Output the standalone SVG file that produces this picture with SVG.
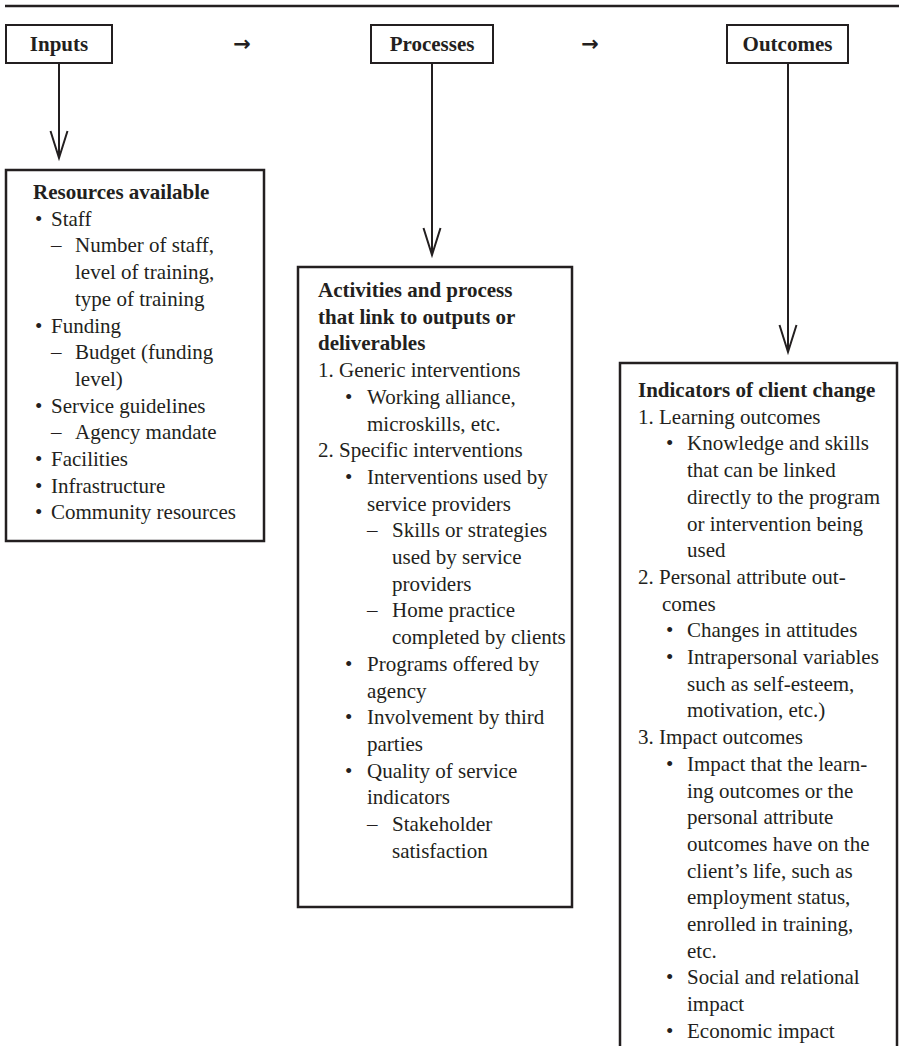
<svg xmlns="http://www.w3.org/2000/svg" width="899" height="1046" viewBox="0 0 899 1046">
<defs>
<marker id="vhead" markerUnits="userSpaceOnUse" markerWidth="40" markerHeight="40" refX="0" refY="0" orient="auto" overflow="visible">
<path d="M-27,-8.5 L0,0 L-27,8.5" fill="none" stroke="#231f20" stroke-width="2"/>
</marker>
<style>
text{font-family:"Liberation Serif","Times New Roman",serif;font-size:21px;fill:#231f20}
.b{font-weight:bold}
.h{font-weight:bold;text-anchor:middle}
.arr{font-family:"DejaVu Sans","Liberation Sans",sans-serif;font-size:21px;font-weight:bold;text-anchor:middle}
.hbox{fill:#fff;stroke:#231f20;stroke-width:2}
.box{fill:#fff;stroke:#231f20;stroke-width:2.5}
.conn{stroke:#231f20;stroke-width:2;fill:none}
</style>
</defs>
<rect width="899" height="1046" fill="#fff"/>
<line x1="5" y1="6" x2="899" y2="6" stroke="#231f20" stroke-width="2.5"/>

<g id="connectors">
<line class="conn" x1="59" y1="63" x2="59" y2="158" marker-end="url(#vhead)"/>
<line class="conn" x1="432" y1="63" x2="432" y2="255" marker-end="url(#vhead)"/>
<line class="conn" x1="788" y1="63" x2="788" y2="352" marker-end="url(#vhead)"/>
<text class="arr" x="242" y="51">→</text>
<text class="arr" x="590" y="51">→</text>
</g>

<g id="inputs-header">
<rect class="hbox" x="6" y="25" width="106" height="38"/>
<text class="h" x="59" y="51">Inputs</text>
</g>
<g id="processes-header">
<rect class="hbox" x="371" y="25" width="122" height="38"/>
<text class="h" x="432" y="51">Processes</text>
</g>
<g id="outcomes-header">
<rect class="hbox" x="727" y="25" width="121" height="38"/>
<text class="h" x="787.5" y="51">Outcomes</text>
</g>

<g id="inputs-box">
<rect class="box" x="6" y="170" width="258" height="371"/>
<text class="b" x="33" y="199">Resources available</text>
<text x="35" y="225.7">•</text><text x="51" y="225.7">Staff</text>
<text x="51" y="252.4">–</text><text x="75" y="252.4">Number of staff,</text>
<text x="75" y="279.1">level of training,</text>
<text x="75" y="305.8">type of training</text>
<text x="35" y="332.5">•</text><text x="51" y="332.5">Funding</text>
<text x="51" y="359.2">–</text><text x="75" y="359.2">Budget (funding</text>
<text x="75" y="385.9">level)</text>
<text x="35" y="412.6">•</text><text x="51" y="412.6">Service guidelines</text>
<text x="51" y="439.3">–</text><text x="75" y="439.3">Agency mandate</text>
<text x="35" y="466">•</text><text x="51" y="466">Facilities</text>
<text x="35" y="492.7">•</text><text x="51" y="492.7">Infrastructure</text>
<text x="35" y="519.4">•</text><text x="51" y="519.4">Community resources</text>
</g>

<g id="processes-box">
<rect class="box" x="298" y="267" width="274" height="640"/>
<text class="b" x="318" y="297">Activities and process</text>
<text class="b" x="318" y="323.7">that link to outputs or</text>
<text class="b" x="318" y="350.4">deliverables</text>
<text x="318" y="377.1">1. Generic interventions</text>
<text x="345" y="403.8">•</text><text x="367" y="403.8">Working alliance,</text>
<text x="367" y="430.5">microskills, etc.</text>
<text x="318" y="457.2">2. Specific interventions</text>
<text x="345" y="483.9">•</text><text x="367" y="483.9">Interventions used by</text>
<text x="367" y="510.6">service providers</text>
<text x="367" y="537.3">–</text><text x="392" y="537.3">Skills or strategies</text>
<text x="392" y="564">used by service</text>
<text x="392" y="590.7">providers</text>
<text x="367" y="617.4">–</text><text x="392" y="617.4">Home practice</text>
<text x="392" y="644.1">completed by clients</text>
<text x="345" y="670.8">•</text><text x="367" y="670.8">Programs offered by</text>
<text x="367" y="697.5">agency</text>
<text x="345" y="724.2">•</text><text x="367" y="724.2">Involvement by third</text>
<text x="367" y="750.9">parties</text>
<text x="345" y="777.6">•</text><text x="367" y="777.6">Quality of service</text>
<text x="367" y="804.3">indicators</text>
<text x="367" y="831">–</text><text x="392" y="831">Stakeholder</text>
<text x="392" y="857.7">satisfaction</text>
</g>

<g id="outcomes-box">
<rect class="box" x="620" y="363" width="277" height="700"/>
<text class="b" x="638" y="397">Indicators of client change</text>
<text x="638" y="423.7">1. Learning outcomes</text>
<text x="666" y="450.4">•</text><text x="687" y="450.4">Knowledge and skills</text>
<text x="687" y="477.1">that can be linked</text>
<text x="687" y="503.8">directly to the program</text>
<text x="687" y="530.5">or intervention being</text>
<text x="687" y="557.2">used</text>
<text x="638" y="583.9">2. Personal attribute out-</text>
<text x="662" y="610.6">comes</text>
<text x="666" y="637.3">•</text><text x="687" y="637.3">Changes in attitudes</text>
<text x="666" y="664">•</text><text x="687" y="664">Intrapersonal variables</text>
<text x="687" y="690.7">such as self-esteem,</text>
<text x="687" y="717.4">motivation, etc.)</text>
<text x="638" y="744.1">3. Impact outcomes</text>
<text x="666" y="770.8">•</text><text x="687" y="770.8">Impact that the learn-</text>
<text x="687" y="797.5">ing outcomes or the</text>
<text x="687" y="824.2">personal attribute</text>
<text x="687" y="850.9">outcomes have on the</text>
<text x="687" y="877.6">client’s life, such as</text>
<text x="687" y="904.3">employment status,</text>
<text x="687" y="931">enrolled in training,</text>
<text x="687" y="957.7">etc.</text>
<text x="666" y="984.4">•</text><text x="687" y="984.4">Social and relational</text>
<text x="687" y="1011.1">impact</text>
<text x="666" y="1037.8">•</text><text x="687" y="1037.8">Economic impact</text>
</g>
</svg>
